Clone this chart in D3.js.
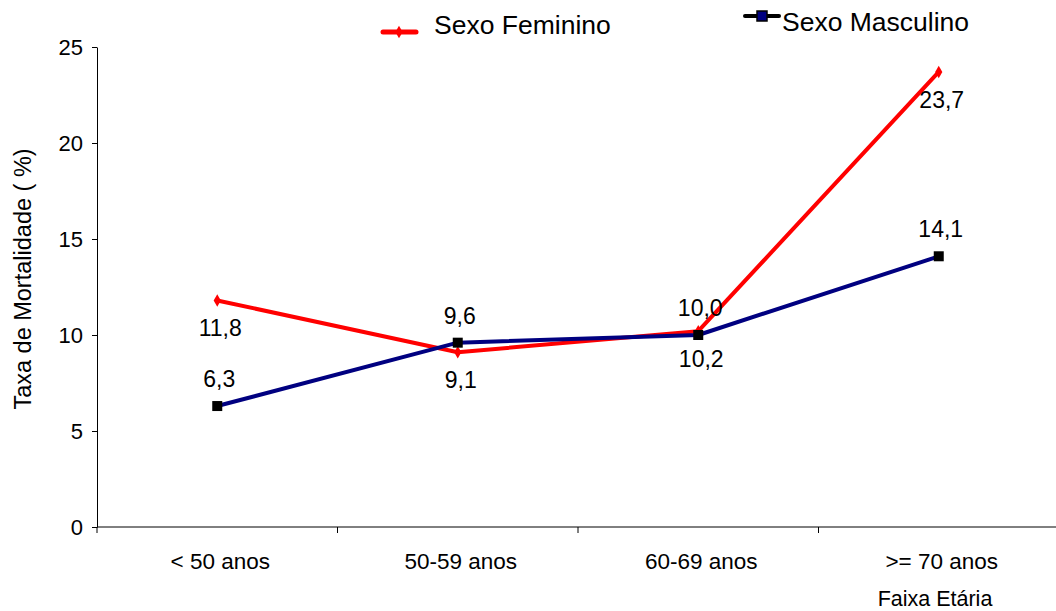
<!DOCTYPE html>
<html>
<head>
<meta charset="utf-8">
<script src="https://cdn.jsdelivr.net/npm/d3@7"></script>
<style>
  html, body { margin: 0; padding: 0; background: #fff; }
  svg { display: block; font-family: "Liberation Sans", Arial, sans-serif; }
</style>
</head>
<body>
<svg id="chart" width="1056" height="611"></svg>
<script>
// Mortality rate (%) by age group and sex
const categories = ["< 50 anos", "50-59 anos", "60-69 anos", ">= 70 anos"];
const feminino = [11.8, 9.1, 10.2, 23.7];
const masculino = [6.3, 9.6, 10.0, 14.1];
const yTicks = [0, 5, 10, 15, 20, 25];

const svg = d3.select("#chart");
const plotLeft = 97, plotRight = 1059, plotTop = 47, plotBottom = 527;

const x = d3.scaleBand().domain(categories).range([plotLeft, plotRight]);
const y = d3.scaleLinear().domain([0, 25]).range([plotBottom, plotTop]);
const cx = c => x(c) + x.bandwidth() / 2;
const fmt = v => d3.format(".1f")(v).replace(".", ",");

// Y axis
const yAxis = svg.append("g")
  .attr("transform", `translate(${plotLeft},0)`)
  .call(d3.axisLeft(y).tickValues(yTicks).tickSize(5).tickSizeOuter(0).tickPadding(9));
yAxis.selectAll("text").attr("font-size", 22).attr("fill", "#000").attr("font-family", "Liberation Sans, Arial, sans-serif");
yAxis.selectAll("line, path").attr("stroke", "#000");

// X axis: ticks at band boundaries
const xAxisG = svg.append("g").attr("transform", `translate(0,${plotBottom})`);
xAxisG.append("line").attr("x1", plotLeft).attr("x2", plotRight).attr("stroke", "#000");
const bounds = categories.map(c => x(c)).concat([plotRight]);
xAxisG.selectAll("line.tick").data(bounds).join("line")
  .attr("class", "tick")
  .attr("x1", d => d).attr("x2", d => d).attr("y1", 0).attr("y2", 6)
  .attr("stroke", "#000");
xAxisG.selectAll("text").data(categories).join("text")
  .attr("x", d => cx(d) + 3).attr("y", 42)
  .attr("text-anchor", "middle").attr("font-size", 22.5)
  .text(d => d);

// Axis titles
svg.append("text")
  .attr("transform", `translate(31,279) rotate(-90)`)
  .attr("text-anchor", "middle").attr("font-size", 23.5)
  .text("Taxa de Mortalidade ( %)");
svg.append("text")
  .attr("x", 935).attr("y", 606)
  .attr("text-anchor", "middle").attr("font-size", 21.5)
  .text("Faixa Etária");

const line = d3.line().x((d, i) => cx(categories[i])).y(d => y(d));

// Series lines
svg.append("path").datum(feminino).attr("d", line)
  .attr("fill", "none").attr("stroke", "#ff0000").attr("stroke-width", 4).attr("stroke-linejoin", "round");
svg.append("path").datum(masculino).attr("d", line)
  .attr("fill", "none").attr("stroke", "#000080").attr("stroke-width", 4).attr("stroke-linejoin", "round");

// Markers
const diamond = d3.symbol().type(d3.symbolDiamond).size(45);
svg.selectAll("path.fem").data(feminino).join("path")
  .attr("class", "fem").attr("d", diamond)
  .attr("transform", (d, i) => `translate(${cx(categories[i])},${y(d)})`)
  .attr("fill", "#ff0000");
svg.selectAll("rect.masc").data(masculino).join("rect")
  .attr("class", "masc")
  .attr("x", (d, i) => cx(categories[i]) - 5).attr("y", d => y(d) - 5)
  .attr("width", 10).attr("height", 10).attr("fill", "#000");

// Value labels: feminino below, masculino above
svg.selectAll("text.lf").data(feminino).join("text")
  .attr("class", "lf").attr("x", (d, i) => cx(categories[i]) + 3).attr("y", d => y(d) + 36)
  .attr("text-anchor", "middle").attr("font-size", 23).text(d => fmt(d));
svg.selectAll("text.lm").data(masculino).join("text")
  .attr("class", "lm").attr("x", (d, i) => cx(categories[i]) + 2).attr("y", d => y(d) - 19)
  .attr("text-anchor", "middle").attr("font-size", 23).text(d => fmt(d));

// Legend
const lf = svg.append("g");
lf.append("line").attr("x1", 383).attr("x2", 416).attr("y1", 32).attr("y2", 32)
  .attr("stroke", "#ff0000").attr("stroke-width", 5).attr("stroke-linecap", "round");
lf.append("path").attr("d", diamond).attr("transform", "translate(399,32)").attr("fill", "#ff0000");
lf.append("text").attr("x", 434).attr("y", 34).attr("font-size", 26.5).text("Sexo Feminino");

const lm = svg.append("g");
lm.append("line").attr("x1", 745).attr("x2", 779).attr("y1", 16).attr("y2", 16)
  .attr("stroke", "#000").attr("stroke-width", 4).attr("stroke-linecap", "round");
lm.append("rect").attr("x", 757).attr("y", 11).attr("width", 10).attr("height", 10)
  .attr("fill", "#000080").attr("stroke", "#000").attr("stroke-width", 1.5);
lm.append("text").attr("x", 782).attr("y", 31).attr("font-size", 26.5).text("Sexo Masculino");
</script>
</body>
</html>
